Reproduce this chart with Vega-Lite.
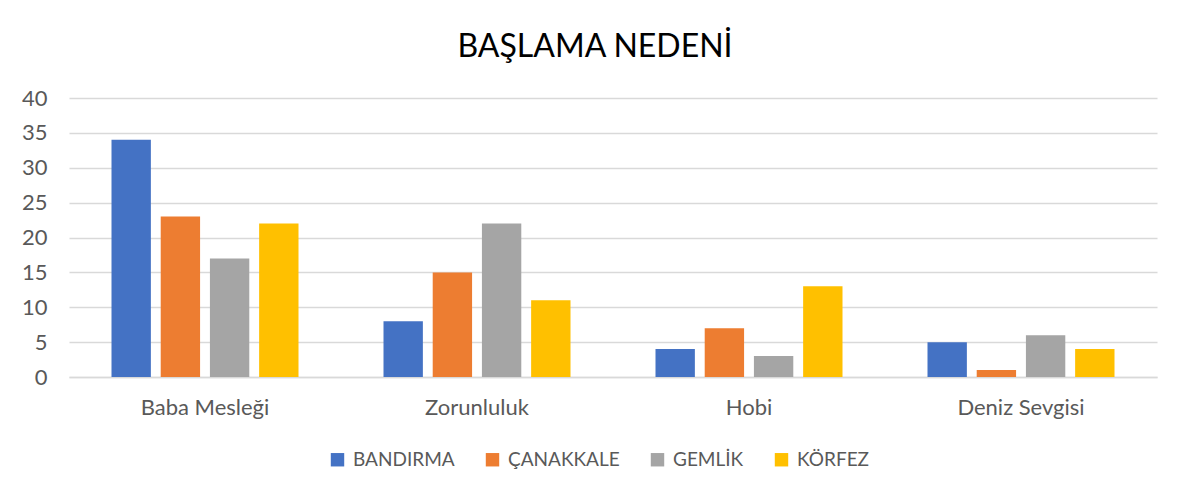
{
  "$schema": "https://vega.github.io/schema/vega-lite/v6.json",
  "width": 1088,
  "height": 279,
  "autosize": {"type": "none"},
  "padding": {"left": 69, "top": 98, "right": 34, "bottom": 125},
  "background": "white",
  "title": {
    "text": "BAŞLAMA NEDENİ",
    "fontSize": 32,
    "font": "Lato",
    "fontWeight": "normal",
    "color": "#000000",
    "anchor": "middle",
    "offset": 23,
    "dx": -18
  },
  "data": {
    "values": [
      {"neden": "Baba Mesleği", "yer": "BANDIRMA", "deger": 34},
      {"neden": "Baba Mesleği", "yer": "ÇANAKKALE", "deger": 23},
      {"neden": "Baba Mesleği", "yer": "GEMLİK", "deger": 17},
      {"neden": "Baba Mesleği", "yer": "KÖRFEZ", "deger": 22},
      {"neden": "Zorunluluk", "yer": "BANDIRMA", "deger": 8},
      {"neden": "Zorunluluk", "yer": "ÇANAKKALE", "deger": 15},
      {"neden": "Zorunluluk", "yer": "GEMLİK", "deger": 22},
      {"neden": "Zorunluluk", "yer": "KÖRFEZ", "deger": 11},
      {"neden": "Hobi", "yer": "BANDIRMA", "deger": 4},
      {"neden": "Hobi", "yer": "ÇANAKKALE", "deger": 7},
      {"neden": "Hobi", "yer": "GEMLİK", "deger": 3},
      {"neden": "Hobi", "yer": "KÖRFEZ", "deger": 13},
      {"neden": "Deniz Sevgisi", "yer": "BANDIRMA", "deger": 5},
      {"neden": "Deniz Sevgisi", "yer": "ÇANAKKALE", "deger": 1},
      {"neden": "Deniz Sevgisi", "yer": "GEMLİK", "deger": 6},
      {"neden": "Deniz Sevgisi", "yer": "KÖRFEZ", "deger": 4}
    ]
  },
  "mark": {"type": "bar"},
  "encoding": {
    "x": {
      "field": "neden",
      "type": "nominal",
      "sort": ["Baba Mesleği", "Zorunluluk", "Hobi", "Deniz Sevgisi"],
      "scale": {"paddingInner": 0.3125, "paddingOuter": 0.15625},
      "axis": {
        "title": null,
        "labelAngle": 0,
        "labelFont": "Lato",
        "labelFontSize": 22,
        "labelColor": "#595959",
        "labelPadding": 20,
        "ticks": false,
        "domainColor": "#d9d9d9",
        "domainWidth": 1.5
      }
    },
    "xOffset": {
      "field": "yer",
      "type": "nominal",
      "sort": ["BANDIRMA", "ÇANAKKALE", "GEMLİK", "KÖRFEZ"],
      "scale": {"paddingInner": 0.2, "paddingOuter": 0}
    },
    "y": {
      "field": "deger",
      "type": "quantitative",
      "scale": {"domain": [0, 40]},
      "axis": {
        "title": null,
        "values": [0, 5, 10, 15, 20, 25, 30, 35, 40],
        "domain": false,
        "ticks": false,
        "labelFont": "Lato",
        "labelFontSize": 22,
        "labelColor": "#595959",
        "labelPadding": 22,
        "gridColor": "#d9d9d9",
        "gridWidth": 1.5
      }
    },
    "color": {
      "field": "yer",
      "type": "nominal",
      "sort": ["BANDIRMA", "ÇANAKKALE", "GEMLİK", "KÖRFEZ"],
      "scale": {
        "domain": ["BANDIRMA", "ÇANAKKALE", "GEMLİK", "KÖRFEZ"],
        "range": ["#4472C4", "#ED7D31", "#A5A5A5", "#FFC000"]
      },
      "legend": {
        "title": null,
        "orient": "none",
        "legendX": 259,
        "legendY": 352,
        "direction": "horizontal",
        "symbolType": "square",
        "symbolSize": 180,
        "symbolStrokeWidth": 0,
        "labelFont": "Lato",
        "labelFontSize": 19,
        "labelColor": "#595959",
        "columnPadding": 28,
        "labelOffset": 6
      }
    }
  },
  "config": {"view": {"stroke": null}}
}
